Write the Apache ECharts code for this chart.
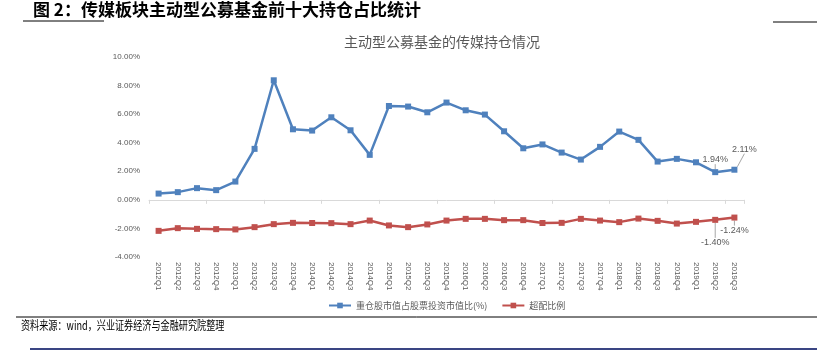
<!DOCTYPE html>
<html>
<head>
<meta charset="utf-8">
<script src="https://cdn.jsdelivr.net/npm/echarts@6/dist/echarts.min.js"></script>
<style>
html,body{margin:0;padding:0;background:#fff;}
#main{width:817px;height:352px;}
</style>
</head>
<body>
<div id="main"></div>
<script>
var quarters = ['2012Q1','2012Q2','2012Q3','2012Q4','2013Q1','2013Q2','2013Q3','2013Q4',
    '2014Q1','2014Q2','2014Q3','2014Q4','2015Q1','2015Q2','2015Q3','2015Q4',
    '2016Q1','2016Q2','2016Q3','2016Q4','2017Q1','2017Q2','2017Q3','2017Q4',
    '2018Q1','2018Q2','2018Q3','2018Q4','2019Q1','2019Q2','2019Q3'];
// 重仓股市值占股票投资市值比(%)
var heavyList = [0.44,0.54,0.82,0.68,1.28,3.57,8.37,4.94,
    4.85,5.78,4.87,3.15,6.57,6.53,6.13,6.81,
    6.27,5.97,4.80,3.61,3.88,3.31,2.82,3.71,
    4.78,4.20,2.68,2.87,2.63,1.94,2.11];
// 超配比例
var overList = [-2.17,-1.98,-2.03,-2.05,-2.07,-1.91,-1.70,-1.61,
    -1.62,-1.63,-1.70,-1.45,-1.79,-1.91,-1.72,-1.45,
    -1.33,-1.33,-1.42,-1.42,-1.62,-1.61,-1.33,-1.45,
    -1.56,-1.31,-1.47,-1.66,-1.54,-1.40,-1.24];

var myChart = echarts.init(document.getElementById('main'));

// 只给最后两个点标数值
function pointData(list, pos) {
    return list.map(function (v, i) {
        var d = {value: v};
        if (i >= list.length - 2) d.label = {show: true, position: pos, distance: 5};
        return d;
    });
}

function pctLabel(p) { return p.value.toFixed(2) + '%'; }

var option = {
    backgroundColor: '#fff',
    animation: false,
    title: {
        text: '主动型公募基金的传媒持仓情况',
        left: 437,
        textAlign: 'center',
        top: 30,
        textStyle: {fontFamily: 'Noto Sans CJK SC', fontSize: 14, fontWeight: 'normal', color: '#595959'}
    },
    graphic: [
        {type: 'text', left: 33, top: 1,
            style: {text: '图 2：传媒板块主动型公募基金前十大持仓占比统计', fontFamily: 'Noto Sans CJK SC',
                fontSize: 17, fontWeight: 'bold', fill: '#000'}},
        {type: 'line', shape: {x1: 23, y1: 21, x2: 104, y2: 21}, style: {stroke: '#000', lineWidth: 1}},
        {type: 'line', shape: {x1: 773, y1: 22, x2: 817, y2: 22}, style: {stroke: '#000', lineWidth: 1}},
        {type: 'line', shape: {x1: 16, y1: 317, x2: 817, y2: 317}, style: {stroke: '#000', lineWidth: 1}},
        {type: 'text', x: 21, y: 319, scaleX: 0.76,
            style: {text: '资料来源：wind，兴业证券经济与金融研究院整理', fontFamily: 'Noto Sans CJK SC',
                fontSize: 12, fill: '#000'}},
        {type: 'line', shape: {x1: 30, y1: 349, x2: 817, y2: 349}, style: {stroke: '#3a4583', lineWidth: 2}}
    ],
    legend: {
        top: 296,
        left: 323,
        orient: 'horizontal',
        itemWidth: 22,
        itemHeight: 7,
        itemGap: 14,
        textStyle: {fontFamily: 'Noto Sans CJK SC', fontSize: 9, color: '#595959'},
        data: ['重仓股市值占股票投资市值比(%)', '超配比例']
    },
    grid: {left: 149, right: 73, top: 57, bottom: 95},
    xAxis: [
        {
            type: 'category',
            data: quarters,
            axisLine: {onZero: true, lineStyle: {color: '#d9d9d9'}},
            axisTick: {show: true, length: 4, lineStyle: {color: '#d9d9d9'}},
            axisLabel: {show: false}
        },
        {
            type: 'category',
            data: quarters,
            position: 'bottom',
            axisLine: {show: false, onZero: false},
            axisTick: {show: false},
            axisLabel: {rotate: -90, margin: 5, fontSize: 8, color: '#595959', fontFamily: 'Liberation Sans'}
        }
    ],
    yAxis: {
        type: 'value',
        min: -4,
        max: 10,
        interval: 2,
        splitLine: {show: false},
        axisLine: {show: false},
        axisTick: {show: false},
        axisLabel: {
            fontSize: 8, color: '#595959', fontFamily: 'Liberation Sans', margin: 9,
            formatter: function (v) { return v.toFixed(2) + '%'; }
        }
    },
    series: [
        {
            name: '重仓股市值占股票投资市值比(%)',
            type: 'line',
            data: pointData(heavyList, 'top'),
            symbol: 'rect',
            symbolSize: 6,
            lineStyle: {width: 2.5, color: '#4f81bd'},
            itemStyle: {color: '#4f81bd'},
            label: {fontSize: 9, color: '#595959', fontFamily: 'Liberation Sans', formatter: pctLabel},
            labelLine: {show: true, lineStyle: {color: '#a6a6a6', width: 1}},
            labelLayout: function (p) {
                if (p.dataIndex === 30) return {dx: 10, dy: -8};
                return {};
            }
        },
        {
            name: '超配比例',
            type: 'line',
            data: pointData(overList, 'bottom'),
            symbol: 'rect',
            symbolSize: 6,
            lineStyle: {width: 2.5, color: '#c0504d'},
            itemStyle: {color: '#c0504d'},
            label: {fontSize: 9, color: '#595959', fontFamily: 'Liberation Sans', formatter: pctLabel},
            labelLine: {show: true, lineStyle: {color: '#a6a6a6', width: 1}},
            labelLayout: function (p) {
                if (p.dataIndex === 29) return {dy: 10};
                return {};
            }
        }
    ]
};
myChart.setOption(option);
</script>
</body>
</html>
